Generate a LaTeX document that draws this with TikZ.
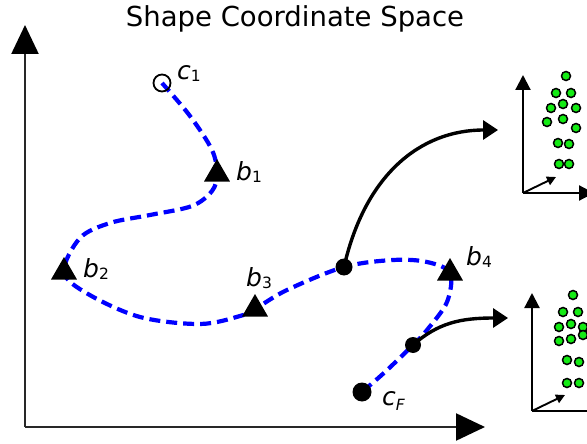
\documentclass[tikz,border=0pt]{standalone}
\usepackage{fontspec}
\setmainfont{DejaVu Sans}
\usetikzlibrary{arrows.meta,shapes.geometric}
\definecolor{trajblue}{RGB}{0,0,255}
\definecolor{dotgreen}{RGB}{20,235,20}
\definecolor{axisgray}{RGB}{40,40,40}
\newcommand{\lbl}[3][-2pt]{{\fontsize{25}{25}\selectfont\itshape #2}{\fontsize{15.5}{15.5}\selectfont\raisebox{#1}{#3}}}
\begin{document}
\begin{tikzpicture}[x=1pt,y=-1pt,
  traj/.style={draw=trajblue,line width=4.2pt,dash pattern=on 11pt off 6pt},
  marker/.style={regular polygon,regular polygon sides=3,fill=black,inner sep=0pt,minimum size=30pt},
  bigdot/.style={circle,fill=black,inner sep=0pt,minimum size=#1},
  opendot/.style={circle,draw=black,line width=1.8pt,inner sep=0pt,minimum size=17pt},
  lab/.style={anchor=base west,inner sep=0pt},
  mainaxis/.style={draw=axisgray,line width=2.3pt,-{Triangle[length=29pt,width=27pt,color=black]}},
  bigarrow/.style={draw=black,line width=3.4pt,-{Triangle[length=15pt,width=19pt]}},
  insetaxis/.style={draw=black,line width=2.2pt,-{Triangle[length=15pt,width=15pt]}},
  smallarrow/.style={draw=black,line width=1.9pt,-{Triangle[length=9pt,width=9pt]}},
  gdot/.style={circle,fill=dotgreen,draw=black,line width=1.5pt,inner sep=0pt,minimum size=9pt}]
\useasboundingbox (0,0) rectangle (587,444);

% title
\node[font=\fontsize{27.5}{30}\selectfont,anchor=base,inner sep=0pt] (title) at (295,27) {Shape Coordinate Space};

% main axes
\coordinate (O) at (25,427);
\coordinate (Ytip) at (25,25);
\coordinate (Xtip) at (485,427);
\draw[mainaxis] (O) -- (Ytip);
\draw[mainaxis] (O) -- (Xtip);

% key points
\coordinate (c1) at (162,83);
\coordinate (b1) at (217,174);
\coordinate (b2) at (64,272);
\coordinate (b3) at (255,309);
\coordinate (d1) at (344,267);
\coordinate (b4) at (450,273);
\coordinate (d2) at (413,345);
\coordinate (cF) at (362,392);

% trajectory
\draw[traj] plot[smooth,tension=0.55] coordinates {
  (c1) (190,116) (212,150) (b1) (212,191) (192,206) (150,215) (110,223) (80,238) (b2)
  (88,294) (140,317) (200,324) (240,316) (b3) (287,290) (d1) (393,260) (427,262)
  (b4) (447,302) (427,330) (d2) (385,372) (cF)};

% arrows to insets
\coordinate (a1) at (498,130);
\coordinate (a2) at (508,318);
\draw[bigarrow] (d1) .. controls (365,175) and (420,130) .. (a1);
\draw[bigarrow] (d2) .. controls (438,323) and (460,318) .. (a2);

% markers
\node[opendot] (nc1) at (c1) {};
\node[marker] (nb1) at (b1) {};
\node[marker] (nb2) at (b2) {};
\node[marker] (nb3) at (b3) {};
\node[marker] (nb4) at (b4) {};
\node[bigdot=17pt] (nd1) at (d1) {};
\node[bigdot=16pt] (nd2) at (d2) {};
\node[bigdot=19pt] (ncF) at (cF) {};

% labels
\node[lab] (lc1) at (177,80) {\lbl{c}{1}};
\node[lab] (lb1) at (236,180) {\lbl{b}{1}};
\node[lab] (lb2) at (83,277) {\lbl{b}{2}};
\node[lab] (lb3) at (246,286) {\lbl{b}{3}};
\node[lab] (lb4) at (466,265) {\lbl{b}{4}};
\node[lab] (lcF) at (382,405) {\lbl[-5pt]{c}{\itshape F}};

% inset 1
\coordinate (o1) at (523,193);
\coordinate (y1) at (523,75);
\coordinate (x1) at (594,193);
\coordinate (z1) at (556,177);
\draw[insetaxis] (o1) -- (y1);
\draw[insetaxis] (o1) -- (x1);
\draw[smallarrow] (o1) -- (z1);
\foreach \p [count=\i] in {(566,76),(556,93),(571,93),(551,108),(563,104),(576,108),
  (547,122),(563,119),(576,128),(558,143),(569,144),(559,164),(569,164)}
  \node[gdot] (g1-\i) at \p {};

% inset 2
\coordinate (o2) at (532,411);
\coordinate (y2) at (532,293);
\coordinate (x2) at (603,411);
\coordinate (z2) at (565,395);
\draw[insetaxis] (o2) -- (y2);
\draw[insetaxis] (o2) -- (x2);
\draw[smallarrow] (o2) -- (z2);
\foreach \p [count=\i] in {(573,295),(563,312),(578,312),(559,327),(571,324),(583,327),
  (559,341),(571,339),(583,335),(567,360),(579,362),(567,383),(579,383)}
  \node[gdot] (g2-\i) at \p {};
\end{tikzpicture}
\end{document}
